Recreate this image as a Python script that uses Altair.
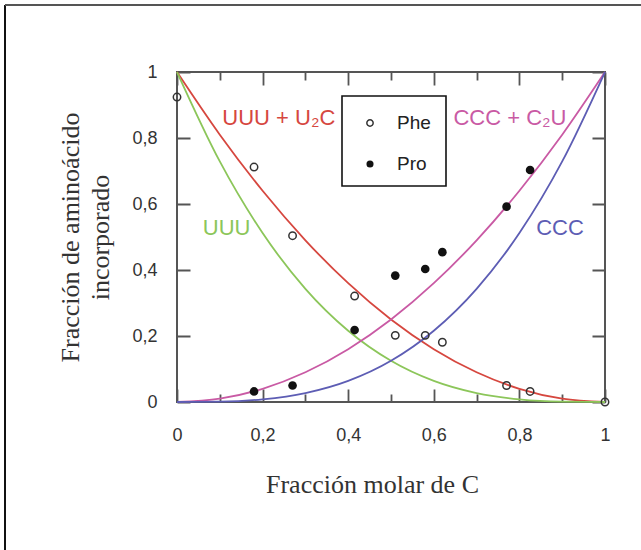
import altair as alt
import pandas as pd

# ---- data ----
curve_x = [0.0, 0.1, 0.2, 0.3, 0.4, 0.5, 0.6, 0.7, 0.8, 0.9, 1.0]
uuu = [1.0, 0.729, 0.512, 0.343, 0.216, 0.125, 0.064, 0.027, 0.008, 0.001, 0.0]
uuu_u2c = [1.0, 0.81, 0.64, 0.49, 0.36, 0.25, 0.16, 0.09, 0.04, 0.01, 0.0]
ccc = [0.0, 0.001, 0.008, 0.027, 0.064, 0.125, 0.216, 0.343, 0.512, 0.729, 1.0]
ccc_c2u = [0.0, 0.01, 0.04, 0.09, 0.16, 0.25, 0.36, 0.49, 0.64, 0.81, 1.0]

phe_x = [0.0, 0.18, 0.27, 0.415, 0.51, 0.58, 0.62, 0.77, 0.825, 1.0]
phe_y = [0.924, 0.712, 0.504, 0.321, 0.202, 0.202, 0.181, 0.05, 0.032, 0.0]
pro_x = [0.18, 0.27, 0.415, 0.51, 0.58, 0.62, 0.77, 0.825]
pro_y = [0.032, 0.05, 0.218, 0.383, 0.403, 0.454, 0.592, 0.703]

series_names = ["UUU + U₂C", "UUU", "CCC + C₂U", "CCC"]
series_colors = ["#d6473f", "#8cc65a", "#c95aa4", "#5d5db4"]
label_x = [0.238, 0.116, 0.778, 0.895]
label_y = [0.861, 0.527, 0.861, 0.527]

legend_names = ["Phe", "Pro"]
tick_values = [0, 0.1, 0.2, 0.3, 0.4, 0.5, 0.6, 0.7, 0.8, 0.9, 1]

W, H = 428, 330

curves = pd.DataFrame(
    [{"x": xv, "y": yv, "series": s}
     for s, ys in zip(series_names, [uuu_u2c, uuu, ccc_c2u, ccc])
     for xv, yv in zip(curve_x, ys)]
)
phe = pd.DataFrame({"x": phe_x, "y": phe_y})
pro = pd.DataFrame({"x": pro_x, "y": pro_y})
labels = pd.DataFrame({"x": label_x, "y": label_y, "series": series_names})

xs = alt.Scale(domain=[0, 1], nice=False, zero=False)
ys = alt.Scale(domain=[0, 1], nice=False, zero=False)
cs = alt.Scale(domain=series_names, range=series_colors)

is_minor = "round(datum.value * 10) % 2 == 1"
lab_expr = is_minor + " ? '' : replace(format(datum.value, '.1~f'), '.', ',')"

# inward ticks on both sides are drawn as dashed grid lines (dash at each end)
MAJ, MIN = 13, 8
x_grid_dash = {"condition": {"test": is_minor, "value": [MIN, H - 2 * MIN, MIN, 20]},
               "value": [MAJ, H - 2 * MAJ, MAJ, 20]}
y_grid_dash = {"condition": {"test": is_minor, "value": [MIN, W - 2 * MIN, MIN, 20]},
               "value": [MAJ, W - 2 * MAJ, MAJ, 20]}

common = dict(
    values=tick_values, labelExpr=lab_expr, ticks=False, domain=False,
    grid=True, gridColor="#555555", gridWidth=1.8, gridOpacity=1,
    labelFont="Liberation Sans", labelFontSize=18, labelColor="#333333",
    labelFlush=False, labelOverlap=False,
    titleFont="Liberation Serif", titleFontSize=26, titleFontWeight="normal",
    titleColor="#333333", titleAlign="center", titleBaseline="alphabetic",
)

x_axis = alt.Axis(
    labelPadding=24, gridDash=x_grid_dash,
    title="Fracción molar de C", titleX=195, titleY=90, **common,
)
y_axis = alt.Axis(
    labelPadding=20, gridDash=y_grid_dash,
    title=["Fracción de aminoácido", "incorporado"],
    titleX=-99, titleY=165, titleAngle=270, titleLineHeight=30, **common,
)

lines = alt.Chart(curves).mark_line(strokeWidth=1.8, interpolate="monotone").encode(
    x=alt.X("x:Q", scale=xs, axis=x_axis),
    y=alt.Y("y:Q", scale=ys, axis=y_axis),
    color=alt.Color("series:N", scale=cs, legend=None),
)


def X(field):
    return alt.X(field, scale=xs)


def Y(field):
    return alt.Y(field, scale=ys)


phe_pts = alt.Chart(phe).mark_point(
    shape="circle", filled=False, stroke="#333333", strokeWidth=1.5, size=55, opacity=1
).encode(x=X("x:Q"), y=Y("y:Q"))

pro_pts = alt.Chart(pro).mark_circle(color="#111111", size=75, opacity=1).encode(
    x=X("x:Q"), y=Y("y:Q")
)

curve_labels = alt.Chart(labels).mark_text(
    font="Liberation Sans", fontSize=22, align="center", baseline="middle"
).encode(
    x=X("x:Q"), y=Y("y:Q"),
    text="series:N",
    color=alt.Color("series:N", scale=cs, legend=None),
)

# legend box (drawn by hand)
leg_df = pd.DataFrame({"name": legend_names})
legend_box = alt.Chart(leg_df.head(1)).mark_rect(
    fill="white", stroke="#111111", strokeWidth=1.6
).encode(x=alt.value(165), x2=alt.value(269), y=alt.value(24), y2=alt.value(114))
leg_phe_sym = alt.Chart(leg_df.head(1)).mark_point(
    shape="circle", filled=False, stroke="#333333", strokeWidth=1.5, size=40, opacity=1
).encode(x=alt.value(193), y=alt.value(51))
leg_pro_sym = alt.Chart(leg_df.head(1)).mark_circle(color="#111111", size=50, opacity=1).encode(
    x=alt.value(193), y=alt.value(92)
)
leg_text = alt.Chart(leg_df).mark_text(
    font="Liberation Sans", fontSize=19, align="left", baseline="middle", color="#222222"
)
leg_phe_txt = leg_text.transform_filter("datum.name == 'Phe'").encode(
    x=alt.value(220), y=alt.value(51), text="name:N")
leg_pro_txt = leg_text.transform_filter("datum.name == 'Pro'").encode(
    x=alt.value(220), y=alt.value(92), text="name:N")

# outer frame lines of the figure (left and top edges visible)
frame_left = alt.Chart(leg_df.head(1)).mark_rule(color="#111111", strokeWidth=2).encode(
    x=alt.value(-172), y=alt.value(-67), y2=alt.value(500))
frame_top = alt.Chart(leg_df.head(1)).mark_rule(color="#555555", strokeWidth=2).encode(
    x=alt.value(-172), x2=alt.value(500), y=alt.value(-67))

chart = alt.layer(
    lines, curve_labels, phe_pts, pro_pts,
    legend_box, leg_phe_sym, leg_pro_sym, leg_phe_txt, leg_pro_txt,
    frame_left, frame_top,
).properties(
    width=W, height=H,
    autosize=alt.AutoSizeParams(type="none"),
    padding={"left": 177, "top": 72, "right": 36, "bottom": 148},
    background="white",
).configure_view(stroke="#555555", strokeWidth=2)

chart.save("out.html", embed_options={"renderer": "svg", "actions": False})
